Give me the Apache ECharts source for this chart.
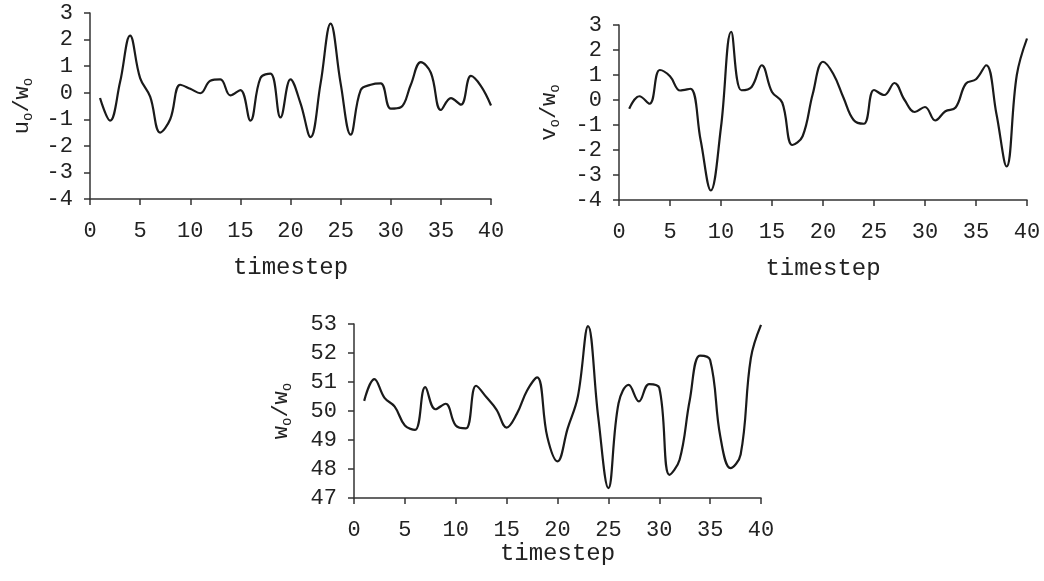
<!DOCTYPE html>
<html><head><meta charset="utf-8">
<script src="https://cdn.jsdelivr.net/npm/echarts@6/dist/echarts.min.js"></script>
<style>html,body{margin:0;padding:0;background:#fff}#c{width:1044px;height:581px}</style>
</head><body><div id="c"></div>
<script>
const timesteps = [1,2,3,4,5,6,7,8,9,10,11,12,13,14,15,16,17,18,19,20,21,22,23,24,25,26,27,28,29,30,31,32,33,34,35,36,37,38,39,40];
const uValues = [-0.2,-1.05,0.4,2.15,0.55,-0.15,-1.5,-1.0,0.3,0.15,-0.02,0.45,0.5,-0.1,0.1,-1.05,0.55,0.72,-0.93,0.5,-0.4,-1.67,0.35,2.6,0.35,-1.58,0.1,0.3,0.35,-0.6,-0.55,0.3,1.15,0.75,-0.65,-0.2,-0.45,0.63,0.25,-0.48];
const vValues = [-0.35,0.15,-0.15,1.2,0.95,0.38,0.45,-1.6,-3.62,-1.08,2.73,0.39,0.52,1.39,0.32,-0.1,-1.8,-1.45,0.25,1.53,1.05,0.1,-0.8,-0.95,0.4,0.2,0.68,0.0,-0.48,-0.28,-0.82,-0.45,-0.3,0.65,0.83,1.39,-0.55,-2.66,1.0,2.46];
const wValues = [50.35,51.1,50.45,50.15,49.5,49.35,50.82,50.06,50.25,49.5,49.4,50.87,50.48,50.05,49.43,49.9,50.7,51.16,49.1,48.26,49.4,50.5,52.93,49.8,47.34,50.27,50.9,50.33,50.93,50.8,47.8,48.32,50.38,51.91,51.76,49.12,48.03,48.5,51.82,52.97];
const xLabel = 'timestep';
const yNames = [['u','o','w','o'],['v','o','w','o'],['w','o','w','o']];

const FONT = 'Liberation Mono';
const TXT = '#222';
const AX = '#333';
function pairs(vals){ return timesteps.map((t,i)=>[t, vals[i]]); }
function nameStr(n){ return '{a|'+n[0]+'}{s|'+n[1]+'}{a|/'+n[2]+'}{s|'+n[3]+'}'; }
const rich = {
  a:{fontFamily:FONT,fontSize:22,color:TXT,lineHeight:26,verticalAlign:'middle'},
  s:{fontFamily:FONT,fontSize:14,color:TXT,lineHeight:26,verticalAlign:'bottom'}
};
function xAx(idx, gap){
  return {type:'value',gridIndex:idx,min:0,max:40,interval:5,
    name:xLabel,nameLocation:'middle',nameGap:gap,
    nameTextStyle:{fontFamily:FONT,fontSize:24,color:TXT},
    axisLine:{onZero:false,lineStyle:{color:AX,width:1.5}},
    axisTick:{show:true,length:6,lineStyle:{color:AX,width:1.5}},
    axisLabel:{fontFamily:FONT,fontSize:22,color:TXT,margin:21},
    splitLine:{show:false}};
}
function yAx(idx, min, max, gap, n){
  return {type:'value',gridIndex:idx,min:min,max:max,interval:1,
    name:nameStr(n),nameLocation:'middle',nameGap:gap,nameRotate:90,
    nameTextStyle:{rich:rich},
    axisLine:{show:true,onZero:false,lineStyle:{color:AX,width:1.5}},
    axisTick:{show:true,length:6,lineStyle:{color:AX,width:1.5}},
    axisLabel:{fontFamily:FONT,fontSize:22,color:TXT,margin:17},
    splitLine:{show:false}};
}
function ser(idx, vals){
  return {type:'line',xAxisIndex:idx,yAxisIndex:idx,data:pairs(vals),smooth:0.4,
    showSymbol:false,symbol:'none',lineStyle:{color:'#1a1a1a',width:2.2}};
}
const chart = echarts.init(document.getElementById('c'),null,{renderer:'canvas'});
chart.setOption({
  animation:false,
  grid:[
    {left:90,right:553,top:13,bottom:382},
    {left:619,right:17,top:25,bottom:381},
    {left:354,right:283,top:324,bottom:83}
  ],
  xAxis:[xAx(0,57),xAx(1,57),xAx(2,43)],
  yAxis:[yAx(0,-4,3,55,yNames[0]),yAx(1,-4,3,57,yNames[1]),yAx(2,47,53,60,yNames[2])],
  series:[ser(0,uValues),ser(1,vValues),ser(2,wValues)]
});
</script></body></html>
